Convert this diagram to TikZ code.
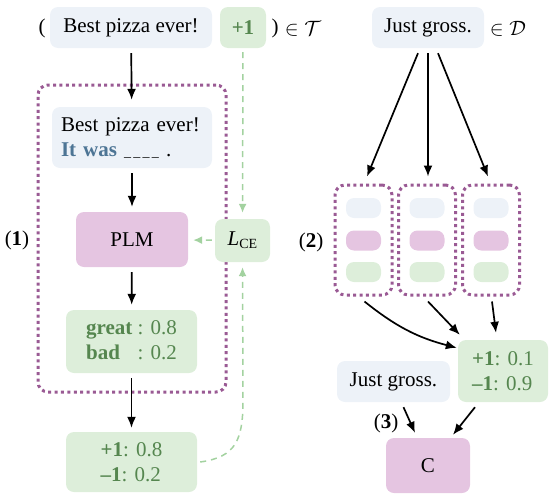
\documentclass[tikz,border=0pt]{standalone}
\usepackage{fontspec}
\setmainfont{Liberation Serif}
\usetikzlibrary{arrows.meta,calc}
\definecolor{bluefill}{HTML}{EDF2F8}
\definecolor{greenfill}{HTML}{DDEEDA}
\definecolor{pinkfill}{HTML}{E5C5E1}
\definecolor{greentext}{HTML}{55864F}
\definecolor{bluetext}{HTML}{4D7595}
\definecolor{dotpurple}{HTML}{9A5A94}
\definecolor{gdashcol}{HTML}{A3D2A0}
\begin{document}
\begin{tikzpicture}[x=1pt,y=-1pt,
  box/.style={rounded corners=8pt, inner sep=0pt, font=\fontsize{21}{25}\selectfont},
  bluebox/.style={box, fill=bluefill},
  greenbox/.style={box, fill=greenfill, text=greentext},
  pinkbox/.style={box, fill=pinkfill},
  lbl/.style={inner sep=0pt, font=\fontsize{21}{25}\selectfont},
  arr/.style={-{Latex[length=11pt,width=9pt]}, line width=1.7pt},
  gdash/.style={-{Latex[length=9pt,width=8pt]}, draw=gdashcol, line width=1.5pt, dash pattern=on 6pt off 5pt},
  dotbox/.style={draw=dotpurple, line width=3pt, dash pattern=on 3pt off 3.4pt, rounded corners=10pt, inner sep=0pt}]
\useasboundingbox (0,0) rectangle (555,501);

% ---- left part ----
\node[lbl] (lpar) at (42,28) {(};
\node[bluebox, minimum width=162pt, minimum height=41pt] (pizza) at (131,27.5) {Best pizza ever!};
\node[greenbox, minimum width=46pt, minimum height=41pt] (plus) at (243,27.5) {\textbf{+1}};
\node[lbl] (rpar) at (275,28) {)};
\node[lbl] (inT) at (303,29) {$\in\mathcal{T}$};

\node[dotbox, minimum width=188pt, minimum height=307pt] (grp1) at (132,238.5) {};
\node[lbl] (lab1) at (17,240) {(\textbf{1})};

\node[bluebox, minimum width=160pt, minimum height=61pt, text width=142pt, align=left] (prompt) at (132,137.5)
  {Best pizza ever!\\\textcolor{bluetext}{\textbf{It was}} {\fontsize{14}{14}\selectfont\_\,\_\,\_\,\_} .};
\node[pinkbox, minimum width=112pt, minimum height=55pt] (plm) at (132,239.5) {PLM};
\node[greenbox, minimum width=55pt, minimum height=43pt, text=black] (lce) at (242.5,240.5)
  {\textit{L}{\raisebox{-0.35ex}{\fontsize{14}{14}\selectfont CE}}};
\node[greenbox, minimum width=131pt, minimum height=63pt] (gb) at (131.5,341.5)
  {\begin{tabular}{@{}l@{\ }l@{}}\textbf{great} & : 0.8\\ \textbf{bad} & : 0.2\end{tabular}};
\node[greenbox, minimum width=131pt, minimum height=60pt, align=left] (res1) at (131.5,462)
  {\textbf{+1}: 0.8\\\textbf{--1}: 0.2};

\draw[arr, shorten <=5pt, shorten >=7pt] (pizza) -- (prompt);
\draw[arr, shorten <=5pt, shorten >=5pt] (prompt) -- (plm);
\draw[arr, shorten <=5pt, shorten >=5pt] (plm) -- (gb);
\draw[arr, shorten <=5pt, shorten >=4pt] (gb) -- (res1);

\draw[gdash, shorten <=4pt, shorten >=6pt] (plus) -- (lce);
\draw[gdash, shorten <=3pt, shorten >=5pt] (lce) -- (plm);
\coordinate (bend) at (243,400);
\draw[gdash, shorten >=5pt] ($(res1.east)+(3,0)$) .. controls (236,457) and (243,440) .. (bend) -- (lce.south);

% ---- right part ----
\node[bluebox, minimum width=112pt, minimum height=41pt] (jg) at (428,27.5) {Just gross.};
\node[lbl] (inD) at (508,29) {$\in\mathcal{D}$};

\foreach \i/\x in {1/363.5, 2/427, 3/491}{
  \node[dotbox, minimum width=57pt, minimum height=110pt] (db\i) at (\x,240) {};
  \node[box, fill=bluefill, minimum width=35pt, minimum height=20pt] (dba\i) at (\x,208) {};
  \node[box, fill=pinkfill, minimum width=35pt, minimum height=20pt] (dbb\i) at (\x,240.5) {};
  \node[box, fill=greenfill, minimum width=35pt, minimum height=20pt] (dbc\i) at (\x,272) {};
}
\node[lbl] (lab2) at (311,242) {(\textbf{2})};

\draw[arr] ($(jg.south)+(-10,5)$) -- ($(db1.north)+(3.5,-7)$);
\draw[arr] ($(jg.south)+(0,5)$) -- ($(db2.north)+(1,-7)$);
\draw[arr] ($(jg.south)+(10,5)$) -- ($(db3.north)+(-3,-7)$);

\node[greenbox, minimum width=90pt, minimum height=62pt, align=left] (res2) at (503,371)
  {\textbf{+1}: 0.1\\\textbf{--1}: 0.9};
\node[bluebox, minimum width=113pt, minimum height=41pt] (jg2) at (393.5,381.5) {Just gross.};
\node[lbl] (lab3) at (386,423) {(\textbf{3})};
\node[pinkbox, minimum width=84pt, minimum height=55pt] (cls) at (428,465.5) {C};

\draw[arr] ($(db1.south)+(1,5)$) to[bend right=12] ($(res2.north west)+(-1,8)$);
\draw[arr] ($(db2.south)+(1,5)$) -- ($(res2.north west)+(2,-5)$);
\draw[arr] ($(db3.south)+(1,5)$) -- ($(res2.north)+(-7,-7)$);

\draw[arr] ($(jg2.south)+(10,5)$) -- ($(cls.north)+(-13,-5)$);
\draw[arr] ($(res2.south)+(-28,5)$) -- ($(cls.north)+(25,-3)$);
\end{tikzpicture}
\end{document}
